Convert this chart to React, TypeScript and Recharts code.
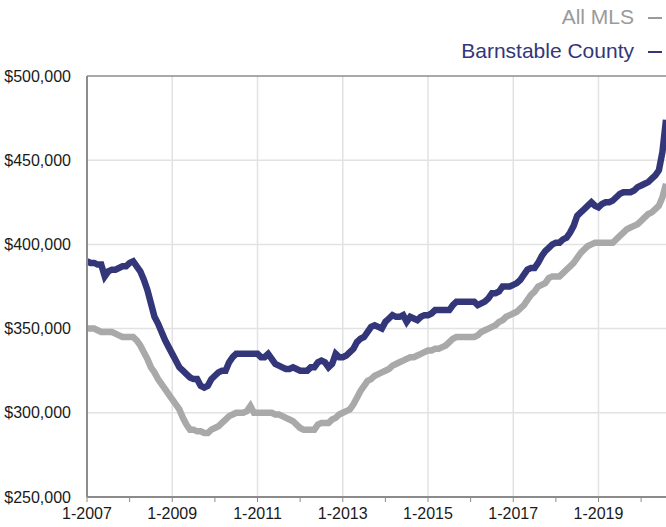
import React from "react";
import {
  LineChart,
  Line,
  XAxis,
  YAxis,
  CartesianGrid,
  ReferenceLine,
} from "recharts";

// monthly median price, thousands of dollars, starting 1-2007
const barnstable = [
  390, 389, 389, 388, 388, 381, 384, 385, 385, 386, 387, 387,
  389, 390, 387, 384, 379, 373, 365, 357, 353, 348, 343, 339,
  335, 331, 327, 325, 323, 321, 320, 320, 316, 315, 316, 320,
  322, 324, 325, 325, 330, 333, 335, 335, 335, 335, 335, 335,
  335, 333, 333, 335, 332, 329, 328, 327, 326, 326, 327, 326,
  325, 325, 325, 327, 327, 330, 331, 330, 327, 329, 335, 333,
  333, 334, 336, 338, 342, 344, 345, 348, 351, 352, 351, 350,
  354, 356, 358, 357, 357, 358, 354, 357, 356, 355, 357, 358,
  358, 359, 361, 361, 361, 361, 361, 364, 366, 366, 366, 366,
  366, 366, 364, 365, 366, 368, 371, 371, 372, 375, 375, 375,
  376, 377, 379, 382, 385, 386, 386, 389, 393, 396, 398, 400,
  401, 401, 403, 404, 407, 411, 417, 419, 421, 423, 425, 423,
  422, 424, 425, 425, 426, 428, 430, 431, 431, 431, 432, 434,
  435, 436, 437, 439, 441, 444, 455, 474,
];

const allMls = [
  350, 350, 350, 349, 348, 348, 348, 348, 347, 346, 345, 345,
  345, 345, 343, 340, 336, 332, 327, 324, 320, 317, 314, 311,
  308, 305, 302, 297, 293, 290, 290, 289, 289, 288, 288, 290,
  291, 292, 294, 296, 298, 299, 300, 300, 300, 301, 304, 300,
  300, 300, 300, 300, 300, 299, 299, 298, 297, 296, 295, 293,
  291, 290, 290, 290, 290, 293, 294, 294, 294, 296, 297, 299,
  300, 301, 302, 305, 309, 313, 316, 319, 320, 322, 323, 324,
  325, 326, 328, 329, 330, 331, 332, 333, 333, 334, 335, 336,
  337, 337, 338, 338, 339, 340, 342, 344, 345, 345, 345, 345,
  345, 345, 346, 348, 349, 350, 351, 352, 354, 355, 357, 358,
  359, 360, 362, 364, 367, 370, 372, 375, 376, 377, 380, 381,
  381, 381, 383, 385, 387, 389, 392, 395, 397, 399, 400, 401,
  401, 401, 401, 401, 401, 403, 405, 407, 409, 410, 411, 412,
  414, 416, 418, 419, 421, 423, 428, 436,
];

const startYear = 2007;
const yTicks = [250, 300, 350, 400, 450, 500];
const yearTicks = [0, 12, 24, 36, 48, 60, 72, 84, 96, 108, 120, 132, 144, 156];
const gridMonths = [24, 48, 72, 96, 120, 144];

const data = barnstable.map((b, i) => ({ m: i, barnstable: b, allMls: allMls[i] }));

const NAVY = "#34367a";
const GRAY = "#a9a9a9";
const FONT = "'Liberation Sans', Arial, Helvetica, sans-serif";

const money = (v: number) => "$" + (v * 1000).toLocaleString("en-US");
const monthLabel = (m: number) => (m % 24 === 0 ? `1-${startYear + m / 12}` : "");

export default function App() {
  return (
    <div style={{ position: "absolute", left: 0, top: 0, width: 666, height: 527, fontFamily: FONT }}>
      <LineChart
        width={666}
        height={527}
        data={data}
        margin={{ top: 76, right: 0, bottom: 0, left: 0 }}
      >
        <CartesianGrid
          stroke="#e2e2e2"
          strokeWidth={1.5}
          horizontalValues={[300, 350, 400, 450]}
          verticalValues={gridMonths}
        />
        <ReferenceLine y={500} stroke="#8c8c8c" strokeWidth={1.5} />
        <XAxis
          type="number"
          dataKey="m"
          domain={[0, 163]}
          ticks={yearTicks}
          interval={0}
          tickFormatter={monthLabel}
          height={30}
          tickSize={5}
          tickMargin={6}
          stroke="#8c8c8c"
          axisLine={{ stroke: "#8c8c8c", strokeWidth: 2 }}
          tick={{ fontSize: 16, fill: "#1a1a1a", fontFamily: FONT }}
        />
        <YAxis
          domain={[250, 500]}
          ticks={yTicks}
          interval={0}
          tickFormatter={money}
          width={87}
          tickLine={false}
          tickSize={0}
          tickMargin={16}
          axisLine={{ stroke: "#8c8c8c", strokeWidth: 2 }}
          tick={{ fontSize: 16, fill: "#1a1a1a", fontFamily: FONT }}
        />
        <Line
          dataKey="allMls"
          stroke={GRAY}
          strokeWidth={6.5}
          dot={false}
          isAnimationActive={false}
        />
        <Line
          dataKey="barnstable"
          stroke={NAVY}
          strokeWidth={6.5}
          dot={false}
          isAnimationActive={false}
        />
      </LineChart>
      <div
        style={{
          position: "absolute",
          right: 4,
          top: 0,
          textAlign: "right",
          fontSize: 21,
          lineHeight: "34px",
        }}
      >
        {[
          { name: "All MLS", color: "#9a9a9a" },
          { name: "Barnstable County", color: NAVY },
        ].map((s) => (
          <div key={s.name} style={{ color: s.color, whiteSpace: "nowrap" }}>
            {s.name}
            <span
              style={{
                display: "inline-block",
                width: 14,
                height: 2,
                marginLeft: 14,
                verticalAlign: "middle",
                background: s.color,
              }}
            />
          </div>
        ))}
      </div>
    </div>
  );
}
